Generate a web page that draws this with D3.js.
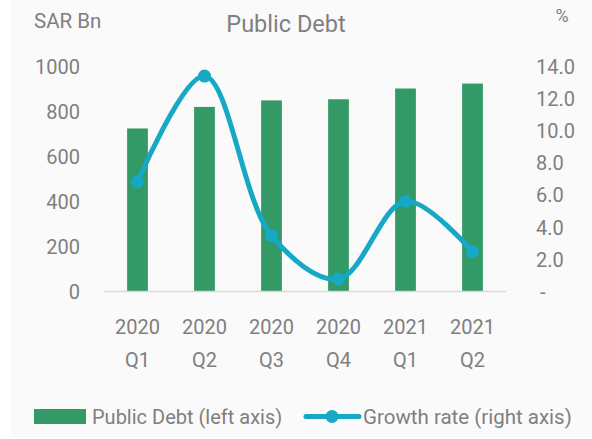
<!DOCTYPE html>
<head>
  <meta charset="utf-8">
  <script src="https://d3js.org/d3.v7.min.js"></script>
  <style>
    body { margin:0; background:#fff; }
    text { font-family: Roboto, "DejaVu Sans", sans-serif; fill:#7f7f7f; }
  </style>
</head>
<body>
<script>

  var categories = ["2020 Q1", "2020 Q2", "2020 Q3", "2020 Q4", "2021 Q1", "2021 Q2"];
  var debt = [724, 820, 849, 854, 902, 924];          // SAR Bn, left axis
  var growth = [6.8, 13.4, 3.45, 0.75, 5.6, 2.45];     // %, right axis
  var leftTicks = [0, 200, 400, 600, 800, 1000];
  var rightTicks = [0, 2, 4, 6, 8, 10, 12, 14];

  var width = 592, height = 439;

  var svg = d3.select("body").append("svg")
    .attr("width", width)
    .attr("height", height)

  svg.append("rect")
    .attr("x", 11).attr("y", 0)
    .attr("width", width - 11).attr("height", 437)
    .attr("fill", "#fafafa")

  var x = d3.scaleBand()
    .domain(categories)
    .range([104, 506])
    .paddingInner(0.69)
    .paddingOuter(0.345)

  var yL = d3.scaleLinear().domain([0, 1000]).range([291, 66.5])
  var yR = d3.scaleLinear().domain([0, 14]).range([291, 66.5])

  // left axis
  var leftAxis = svg.append("g")
    .attr("transform", "translate(80,0)")
    .call(d3.axisLeft(yL).tickValues(leftTicks).tickSize(0).tickPadding(0)
      .tickFormat(d3.format("d")))
  leftAxis.select(".domain").remove()
  leftAxis.selectAll("text")
    .style("font-size", "20px").attr("fill", "#7f7f7f").attr("dy", "0.36em")

  // right axis
  var rightAxis = svg.append("g")
    .attr("transform", "translate(536,0)")
    .call(d3.axisRight(yR).tickValues(rightTicks).tickSize(0).tickPadding(0)
      .tickFormat(function(d){ return d === 0 ? "-" : d.toFixed(1) }))
  rightAxis.select(".domain").remove()
  rightAxis.selectAll("text")
    .style("font-size", "20px").attr("fill", "#7f7f7f").attr("dy", "0.36em")
  rightAxis.selectAll("text").filter(function(d){ return d === 0 })
    .attr("x", 4)

  // bars
  svg.append("g").selectAll("rect")
    .data(debt)
    .enter()
    .append("rect")
    .attr("x", function(d, i){ return x(categories[i]) })
    .attr("y", function(d){ return yL(d) })
    .attr("width", x.bandwidth())
    .attr("height", function(d){ return yL(0) - yL(d) })
    .attr("fill", "#339966")

  // baseline
  svg.append("line")
    .attr("x1", 104).attr("x2", 506)
    .attr("y1", yL(0) + 0.5).attr("y2", yL(0) + 0.5)
    .attr("stroke", "#d9d9d9").attr("stroke-width", 1.5)

  // category labels, two lines
  var xl = svg.append("g").selectAll("text")
    .data(categories)
    .enter()
    .append("text")
    .attr("text-anchor", "middle")
    .style("font-size", "20px")
  xl.append("tspan")
    .attr("x", function(d){ return x(d) + x.bandwidth() / 2 })
    .attr("y", 334)
    .text(function(d){ return d.split(" ")[0] })
  xl.append("tspan")
    .attr("x", function(d){ return x(d) + x.bandwidth() / 2 })
    .attr("y", 366.5)
    .text(function(d){ return d.split(" ")[1] })

  // growth line
  var line = d3.line()
    .x(function(d, i){ return x(categories[i]) + x.bandwidth() / 2 })
    .y(function(d){ return yR(d) })
    .curve(d3.curveCatmullRom.alpha(0.5))

  svg.append("path")
    .attr("d", line(growth))
    .attr("fill", "none")
    .attr("stroke", "#16a8c4")
    .attr("stroke-width", 5)

  svg.append("g").selectAll("circle")
    .data(growth)
    .enter()
    .append("circle")
    .attr("cx", function(d, i){ return x(categories[i]) + x.bandwidth() / 2 })
    .attr("cy", function(d){ return yR(d) })
    .attr("r", 6.5)
    .attr("fill", "#16a8c4")

  // titles
  svg.append("text").attr("x", 286).attr("y", 32)
    .attr("text-anchor", "middle").style("font-size", "23.5px").text("Public Debt")
  svg.append("text").attr("x", 34).attr("y", 28)
    .style("font-size", "20.5px").text("SAR Bn")
  svg.append("text").attr("x", 562).attr("y", 22)
    .attr("text-anchor", "middle").style("font-size", "18px").text("%")

  // legend
  var lg = svg.append("g")
  lg.append("rect").attr("x", 34).attr("y", 409).attr("width", 52).attr("height", 15)
    .attr("fill", "#339966")
  lg.append("text").attr("x", 92).attr("y", 423.5).style("font-size", "20px")
    .text("Public Debt (left axis)")
  lg.append("line").attr("x1", 306).attr("x2", 359).attr("y1", 416.5).attr("y2", 416.5)
    .attr("stroke", "#16a8c4").attr("stroke-width", 5).attr("stroke-linecap", "round")
  lg.append("circle").attr("cx", 332).attr("cy", 416.5).attr("r", 6.5).attr("fill", "#16a8c4")
  lg.append("text").attr("x", 363).attr("y", 423.5).style("font-size", "20.5px")
    .text("Growth rate (right axis)")

</script>
</body>
